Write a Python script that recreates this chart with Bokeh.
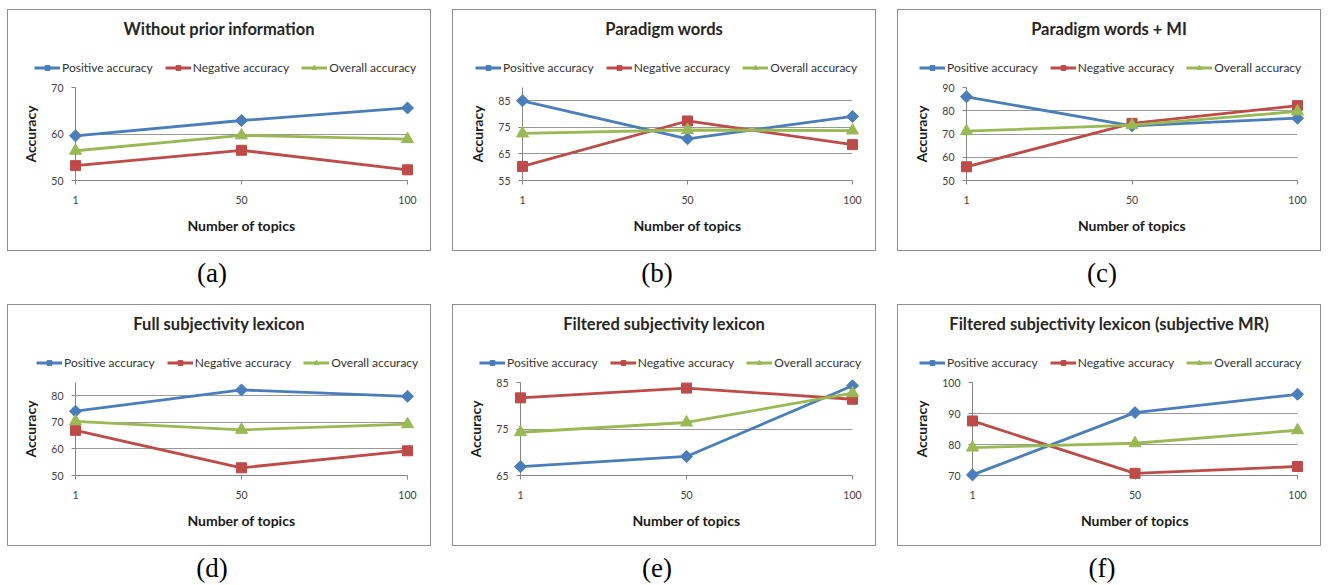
import math
from bokeh.plotting import figure
from bokeh.layouts import row, column
from bokeh.models import Div, Legend, LegendItem, FixedTicker, Range1d
from bokeh.embed import file_html
from bokeh.resources import INLINE

# ---------------- data ----------------
topics = ["1", "50", "100"]
titles = [
    "Without prior information",
    "Paradigm words",
    "Paradigm words + MI",
    "Full subjectivity lexicon",
    "Filtered subjectivity lexicon",
    "Filtered subjectivity lexicon (subjective MR)",
]
captions = ["(a)", "(b)", "(c)", "(d)", "(e)", "(f)"]
series_names = ["Positive accuracy", "Negative accuracy", "Overall accuracy"]

positive = [
    [59.6, 62.9, 65.6],
    [85.0, 70.7, 79.1],
    [86.0, 73.5, 76.8],
    [74.2, 82.2, 79.8],
    [66.9, 69.1, 84.3],
    [70.2, 90.3, 96.2],
]
negative = [
    [53.2, 56.5, 52.3],
    [60.3, 77.4, 68.5],
    [55.9, 74.6, 82.2],
    [67.0, 52.9, 59.3],
    [81.7, 83.8, 81.4],
    [87.6, 70.7, 72.9],
]
overall = [
    [56.4, 59.7, 58.9],
    [72.7, 74.0, 73.8],
    [71.2, 73.8, 79.7],
    [70.4, 67.2, 69.3],
    [74.3, 76.4, 82.7],
    [79.0, 80.4, 84.6],
]
y_ticks = [
    [50, 60, 70],
    [55, 65, 75, 85],
    [50, 60, 70, 80, 90],
    [50, 60, 70, 80],
    [65, 75, 85],
    [70, 80, 90, 100],
]
y_bounds = [(50, 70), (55, 90), (50, 90), (50, 85), (65, 85), (70, 100)]

# ---------------- style ----------------
COLORS = ["#4A7EBB", "#BE4B48", "#98B954"]
MARKERS = ["square", "square", "triangle"]
ANGLES = [math.pi / 4, 0, 0]
MSIZES = [8.5, 10, 12]
LW = 2.8
FONT = "Lato"
W, H = 424, 242
TD = 42           # title strip height
LH = 32           # legend strip height
FH = H - TD - LH  # main figure height
FT, FB, FR = 4, 71, 24
frame_left = [68, 70, 69, 68, 68, 75]
legend_left = [27, 23, 22, 29, 27, 22]


def style_kwargs(k):
    return dict(marker=MARKERS[k], size=MSIZES[k], angle=ANGLES[k],
                fill_color=COLORS[k], line_color=COLORS[k])


def make_panel(i):
    fl = frame_left[i]
    p = figure(
        width=W, height=FH,
        x_range=Range1d(0, len(topics) - 1),
        y_range=Range1d(*y_bounds[i]),
        output_backend="svg", toolbar_location=None,
        min_border_left=fl, min_border_right=FR,
        min_border_top=FT, min_border_bottom=FB,
        background_fill_color="white", border_fill_alpha=0,
        outline_line_color=None, margin=0, frame_align=False,
    )
    xs = list(range(len(topics)))
    for k, ser in enumerate([positive, negative, overall]):
        p.line(xs, ser[i], line_color=COLORS[k], line_width=LW, level="overlay")
        p.scatter(xs, ser[i], level="overlay", **style_kwargs(k))

    p.xaxis.ticker = FixedTicker(ticks=xs)
    p.xaxis.major_label_overrides = {j: t for j, t in enumerate(topics)}
    p.yaxis.ticker = FixedTicker(ticks=y_ticks[i])
    for ax in (p.xaxis[0], p.yaxis[0]):
        ax.axis_line_color = "#868686"
        ax.major_tick_line_color = "#868686"
        ax.minor_tick_line_color = None
        ax.major_tick_in = 0
        ax.major_tick_out = 4
        ax.major_label_text_font = FONT
        ax.major_label_text_font_size = "10.5px"
        ax.major_label_text_color = "#404040"
        ax.axis_label_text_font = FONT
        ax.axis_label_text_font_style = "bold"
        ax.axis_label_text_font_size = "14px"
        ax.axis_label_text_color = "#1a1a1a"
    p.xaxis.axis_label = "Number of topics"
    p.yaxis.axis_label = "Accuracy"
    p.xaxis.major_label_standoff = 11
    p.xaxis.axis_label_standoff = 10
    p.yaxis.major_label_standoff = 8
    p.yaxis.axis_label_standoff = 9

    p.xgrid.grid_line_color = None
    p.ygrid.ticker = FixedTicker(ticks=y_ticks[i])
    p.ygrid.grid_line_color = "#999999"
    p.ygrid.grid_line_width = 1
    return p


def make_legend_strip(i):
    # the series are drawn here outside the visible x range; only the legend shows
    lf = figure(
        width=W, height=LH, x_range=Range1d(10, 11), y_range=Range1d(*y_bounds[i]),
        output_backend="svg", toolbar_location=None,
        x_axis_location=None, y_axis_location=None,
        min_border=0, min_border_left=0, min_border_right=0,
        min_border_top=0, min_border_bottom=0,
        outline_line_color=None, background_fill_alpha=0, border_fill_alpha=0,
        margin=0, frame_align=False,
    )
    lf.xgrid.visible = False
    lf.ygrid.visible = False
    xs = list(range(len(topics)))
    items = []
    for k, ser in enumerate([positive, negative, overall]):
        lr = lf.line(xs, ser[i], line_color=COLORS[k], line_width=LW)
        sr = lf.scatter(xs, ser[i], **style_kwargs(k))
        items.append(LegendItem(label=series_names[k], renderers=[lr, sr]))
    lf.add_layout(Legend(
        items=items, orientation="horizontal", location="left",
        label_text_font=FONT, label_text_font_size="12px", label_text_color="#333333",
        glyph_width=26, glyph_height=12, label_standoff=2, spacing=12,
        padding=0, margin=legend_left[i], background_fill_alpha=0, border_line_alpha=0,
        label_height=12,
    ), "center")
    return lf


def make_title(i):
    return Div(
        text=("<div style=\"width:%dpx;text-align:center;font-family:Lato,sans-serif;"
              "font-weight:bold;font-size:16.5px;line-height:19px;padding-top:11px;"
              "color:#262626;white-space:nowrap;\">%s</div>" % (W, titles[i])),
        width=W, height=TD, margin=0,
    )


def make_caption(i, h):
    return Div(
        text=("<div style=\"width:%dpx;box-sizing:border-box;padding-right:14px;"
              "text-align:center;font-family:'Liberation Serif',serif;"
              "font-size:27px;line-height:30px;padding-top:7px;\">%s</div>"
              % (W, captions[i])),
        width=W, height=h, margin=0,
    )


cols = []
for i in range(6):
    cap_h = 53 if i < 3 else 34
    box = column(
        make_title(i), make_legend_strip(i), make_panel(i),
        width=W, height=H, spacing=0, margin=0,
        styles={"outline": "1.5px solid #8f8f8f", "outline-offset": "-1.5px",
                "background-color": "white"},
    )
    cols.append(column(box, make_caption(i, cap_h), spacing=0, margin=0))

layout = column(
    row(cols[0], cols[1], cols[2], spacing=21, margin=0),
    row(cols[3], cols[4], cols[5], spacing=21, margin=0),
    spacing=0, margin=(9, 0, 0, 7),
)

open("out.html", "w").write(file_html(layout, INLINE))
